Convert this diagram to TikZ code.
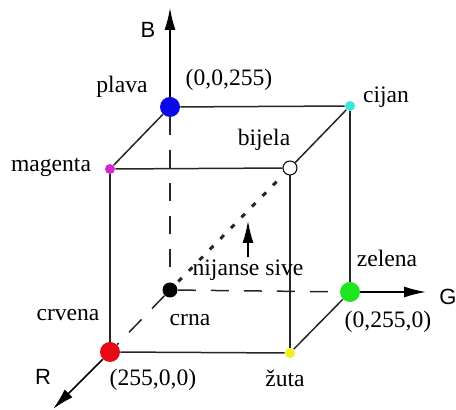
\documentclass[tikz,border=0pt]{standalone}
\usepackage{fontspec}
\setmainfont{Liberation Serif}
\setsansfont{Liberation Sans}
\usetikzlibrary{arrows.meta,positioning}
\definecolor{rgbblue}{HTML}{0A0AE6}
\definecolor{rgbcyan}{HTML}{3CE6DC}
\definecolor{rgbmagenta}{HTML}{D22AD2}
\definecolor{rgbgreen}{HTML}{1EE61E}
\definecolor{rgbred}{HTML}{E60A14}
\definecolor{rgbyellow}{HTML}{F2F01E}
\tikzset{
  vtx/.style={circle,inner sep=0pt,draw=none},
  bigvtx/.style={vtx,minimum size=10pt},
  smallvtx/.style={vtx,minimum size=5pt},
  lbl/.style={font=\fontsize{11.8}{13}\selectfont,inner sep=1pt},
  axlbl/.style={font=\sffamily\fontsize{11}{13}\selectfont,inner sep=1pt},
  edge/.style={draw=black!85,line width=0.75pt},
  hidden/.style={edge,dash pattern=on 9pt off 7.5pt},
  greyline/.style={draw=black!85,line width=1.5pt,dash pattern=on 2.5pt off 5pt},
  ar/.style={-{Latex[length=11pt,width=5.5pt]},draw=black,line width=0.75pt},
}

\begin{document}
\begin{tikzpicture}[x=0.5pt,y=-0.5pt]
    \useasboundingbox (0,0) rectangle (456,410);
    % vrhovi kocke
    \node[bigvtx,fill=rgbblue] (plava) at (170,107) {};
    \node[smallvtx,fill=rgbcyan] (cijan) at (350,106) {};
    \node[smallvtx,fill=rgbmagenta] (magenta) at (110,169) {};
    \node[vtx,draw=black,fill=white,line width=0.5pt,minimum size=7pt] (bijela) at (290,168) {};
    \node[vtx,fill=black,minimum size=7.5pt] (crna) at (170,290) {};
    \node[bigvtx,fill=rgbgreen] (zelena) at (350,292) {};
    \node[bigvtx,fill=rgbred] (crvena) at (110,352) {};
    \node[smallvtx,fill=rgbyellow] (zuta) at (290,353) {};
    \coordinate (Btip) at (170,8);
    \coordinate (Gtip) at (426,292);
    \coordinate (Rtip) at (53,409);
    \coordinate (sivetip) at (248,221);
    % bridovi
    \draw[edge](plava)--(cijan);\draw[edge](plava)--(magenta);\draw[edge](cijan)--(bijela);
    \draw[edge](magenta)--(bijela);\draw[edge](magenta)--(crvena);\draw[edge](bijela)--(zuta);
    \draw[edge](cijan)--(zelena);\draw[edge](crvena)--(zuta);\draw[edge](zuta)--(zelena);
    \draw[hidden](plava)--(crna);\draw[hidden](crna)--(zelena);\draw[hidden](crna)--(crvena);
    \draw[greyline,shorten <=2pt,shorten >=2pt](crna)--(bijela);
    % osi
    \draw[ar](plava)--(Btip);\draw[ar](zelena)--(Gtip);\draw[ar](crvena)--(Rtip);
    % oznake
    \node[axlbl] (lB) at (148,30) {B};
    \node[axlbl] (lG) at (448,297) {G};
    \node[axlbl] (lR) at (43,377) {R};
    \node[lbl] (lplava) at (122,87) {plava};
    \node[lbl] (lplavaval) at (229,80) {(0,0,255)};
    \node[lbl] (lcijan) at (386,97) {cijan};
    \node[lbl] (lbijela) at (264,140) {bijela};
    \node[lbl] (lmagenta) at (51,167) {magenta};
    \node[lbl] (sive) at (248,270) {nijanse sive};
    \node[lbl] (lzelena) at (387,258) {zelena};
    \node[lbl] (lzelenaval) at (388,322) {(0,255,0)};
    \node[lbl] (lcrvena) at (68,315) {crvena};
    \node[lbl] (lcrna) at (190,320) {crna};
    \node[lbl] (lcrvenaval) at (153,380) {(255,0,0)};
    \node[lbl] (lzuta) at (285,378) {žuta};
    \draw[ar](sive.north)--(sivetip);
  \end{tikzpicture}
\end{document}
